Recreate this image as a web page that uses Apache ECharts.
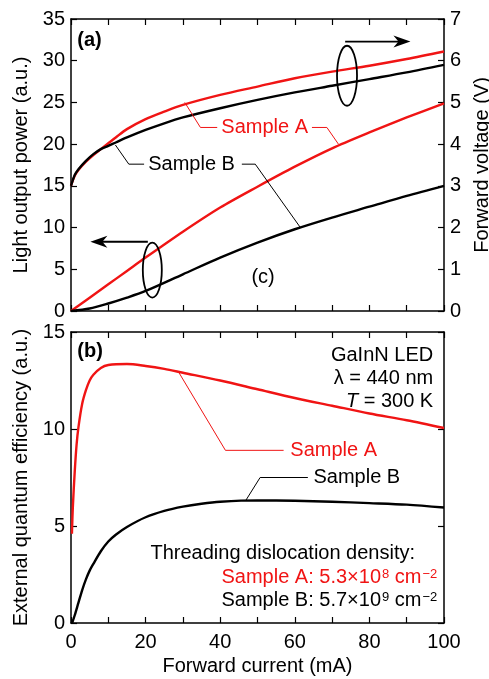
<!DOCTYPE html>
<html>
<head>
<meta charset="utf-8">
<script src="https://cdn.jsdelivr.net/npm/echarts@6/dist/echarts.min.js"></script>
<style>
html,body{margin:0;padding:0;background:#fff;}
#main{width:489px;height:679px;}
</style>
</head>
<body>
<div id="main"></div>
<script>
// (a) light output power (a.u.) vs forward current (mA)
var currentPower = [0, 5, 10, 15, 20, 30, 40, 50, 60, 70, 80, 90, 100];
var powerA = [0, 1.6, 3.2, 4.8, 6.4, 9.5, 12.4, 14.9, 17.3, 19.5, 21.4, 23.2, 24.9];
var powerB = [0, 0.3, 0.9, 1.6, 2.4, 4.4, 6.4, 8.2, 9.8, 11.2, 12.5, 13.8, 15.0];

// (a) forward voltage (V)
var currentVolt = [0, 1, 2, 4, 6, 8, 10, 12, 15, 20, 25, 30, 40, 50, 60, 70, 80, 90, 100];
var voltA = [3.00, 3.24, 3.38, 3.58, 3.74, 3.88, 4.02, 4.16, 4.36, 4.60, 4.78, 4.94, 5.18, 5.38, 5.58, 5.74, 5.88, 6.04, 6.22];
var voltB = [3.00, 3.26, 3.40, 3.60, 3.76, 3.88, 3.96, 4.04, 4.16, 4.34, 4.50, 4.64, 4.86, 5.06, 5.24, 5.40, 5.56, 5.72, 5.90];

// (b) external quantum efficiency (a.u.)
var currentEqeA = [0.25, 0.5, 1, 1.5, 2, 3, 4, 5, 6, 8, 10, 15, 20, 25, 30, 40, 50, 60, 70, 80, 90, 100];
var eqeA = [4.6, 6.0, 7.8, 9.2, 10.1, 11.3, 12.0, 12.5, 12.8, 13.15, 13.3, 13.35, 13.25, 13.1, 12.9, 12.5, 12.05, 11.6, 11.2, 10.8, 10.45, 10.05];
var currentEqeB = [0.3, 1, 2, 3, 4, 5, 6, 8, 10, 12, 15, 20, 25, 30, 35, 40, 50, 60, 70, 80, 90, 100];
var eqeB = [0, 0.4, 1.05, 1.7, 2.25, 2.7, 3.05, 3.7, 4.2, 4.55, 4.95, 5.45, 5.78, 6.0, 6.15, 6.25, 6.32, 6.3, 6.25, 6.18, 6.1, 5.95];

var RED = '#f01414';
var FONT = "'Liberation Sans', Arial, sans-serif";

function pairs(xs, ys) {
    return xs.map(function (x, i) { return [x, ys[i]]; });
}

var lineW = 1.5;
function xAx(grid, pos, labels) {
    return {
        gridIndex: grid, type: 'value', min: 0, max: 100, interval: 10, position: pos,
        axisLine: {show: true, onZero: false, lineStyle: {color: '#000', width: lineW}},
        axisTick: {show: true, inside: true, length: 6, lineStyle: {color: '#000', width: 1.2}},
        axisLabel: {
            show: labels, margin: 9, color: '#000', fontSize: 20, fontFamily: FONT,
            formatter: function (v) { return v % 20 === 0 ? v : ''; }
        },
        splitLine: {show: false}
    };
}
function yAx(grid, pos, max, step, labels) {
    return {
        gridIndex: grid, type: 'value', min: 0, max: max, interval: step, position: pos,
        axisLine: {show: true, onZero: false, lineStyle: {color: '#000', width: lineW}},
        axisTick: {show: true, inside: true, length: 6, lineStyle: {color: '#000', width: 1.2}},
        axisLabel: {show: labels, margin: 6, color: '#000', fontSize: 20, fontFamily: FONT},
        splitLine: {show: false},
        nameTextStyle: {color: '#000', fontSize: 20, fontFamily: FONT}
    };
}

var xBottom = xAx(1, 'bottom', true);
xBottom.name = 'Forward current (mA)';
xBottom.nameLocation = 'middle';
xBottom.nameGap = 33;
xBottom.nameTextStyle = {color: '#000', fontSize: 20, fontFamily: FONT};

var yPower = yAx(0, 'left', 35, 5, true);
yPower.name = 'Light output power (a.u.)';
yPower.nameLocation = 'middle';
yPower.nameRotate = 90;
yPower.nameGap = 40;

var yVolt = yAx(0, 'right', 7, 1, true);
yVolt.name = 'Forward voltage (V)';
yVolt.nameLocation = 'middle';
yVolt.nameRotate = 90;
yVolt.nameGap = 27;

var yEqe = yAx(1, 'left', 15, 5, true);
yEqe.name = 'External quantum efficiency (a.u.)';
yEqe.nameLocation = 'middle';
yEqe.nameRotate = 90;
yEqe.nameGap = 40;

function line(name, data, color, xi, yi) {
    return {
        name: name, type: 'line', xAxisIndex: xi, yAxisIndex: yi, data: data,
        showSymbol: false, smooth: 0.3,
        lineStyle: {color: color, width: 2.4}, z: 3, animation: false
    };
}

var chart = echarts.init(document.getElementById('main'), null, {renderer: 'canvas'});
chart.setOption({
    backgroundColor: '#fff',
    animation: false,
    grid: [
        {left: 71, top: 19, width: 373, height: 292, containLabel: false, outerBoundsMode: 'none'},
        {left: 71, top: 332, width: 373, height: 291, containLabel: false, outerBoundsMode: 'none'}
    ],
    xAxis: [xAx(0, 'bottom', false), xAx(0, 'top', false), xBottom, xAx(1, 'top', false)],
    yAxis: [yPower, yVolt, yEqe, yAx(1, 'right', 15, 5, false)],
    series: [
        line('Sample A power', pairs(currentPower, powerA), RED, 0, 0),
        line('Sample B power', pairs(currentPower, powerB), '#000', 0, 0),
        line('Sample A voltage', pairs(currentVolt, voltA), RED, 0, 1),
        line('Sample B voltage', pairs(currentVolt, voltB), '#000', 0, 1),
        line('Sample A EQE', pairs(currentEqeA, eqeA), RED, 2, 2),
        line('Sample B EQE', pairs(currentEqeB, eqeB), '#000', 2, 2)
    ]
});

// annotations, placed in data units of each panel
function P(panel, x, y) {
    return chart.convertToPixel({seriesIndex: panel === 'a' ? 0 : 4}, [x, y]);
}
function txt(p, text, color, align, extra) {
    var s = {
        text: text, fill: color, fontSize: 20, fontFamily: FONT,
        align: align, verticalAlign: 'middle'
    };
    if (extra) for (var k in extra) s[k] = extra[k];
    return {type: 'text', x: p[0], y: p[1], style: s, z: 10};
}
function poly(pts, color, w) {
    return {type: 'polyline', shape: {points: pts}, style: {stroke: color, lineWidth: w || 1, fill: null}, z: 5};
}
function arrow(from, to) {
    var dir = to[0] > from[0] ? -1 : 1;
    var tx = to[0], ty = to[1];
    return [
        poly([from, [tx + dir * 10, ty]], '#000', 1.8),
        {type: 'polygon', shape: {points: [[tx, ty], [tx + dir * 17, ty - 6], [tx + dir * 12, ty], [tx + dir * 17, ty + 6]]},
            style: {fill: '#000'}, z: 6}
    ];
}
function loop(c, rx, ry) {
    return {type: 'ellipse', shape: {cx: c[0], cy: c[1], rx: rx, ry: ry},
        style: {stroke: '#000', lineWidth: 1.8, fill: null}, z: 6};
}

var sup = {fontSize: 13, fontFamily: FONT, verticalAlign: 'top', padding: [0, 0, 0, 1]};
var g = [];
g.push(txt(P('a', 1.7, 32.4), '(a)', '#000', 'left', {fontWeight: 'bold'}));
g.push(txt(P('a', 51.5, 4.0), '(c)', '#000', 'center'));
// Sample A / B leaders, panel (a)
g.push(poly([P('a', 30.5, 25.0), P('a', 34.7, 22.0), P('a', 39.2, 22.0)], RED));
g.push(txt(P('a', 40.3, 22.0), 'Sample A', RED, 'left'));
g.push(poly([P('a', 64.6, 22.0), P('a', 68.6, 22.0), P('a', 71.7, 20.0)], RED));
g.push(poly([P('a', 11.9, 19.9), P('a', 15.5, 17.6), P('a', 19.6, 17.6)], '#000'));
g.push(txt(P('a', 20.7, 17.6), 'Sample B', '#000', 'left'));
g.push(poly([P('a', 45.8, 17.6), P('a', 49.4, 17.6), P('a', 61.5, 10.0)], '#000'));
// arrows and loops
g.push(loop(P('a', 21.8, 4.9), 9.5, 27.5));
g = g.concat(arrow(P('a', 20.6, 8.3), P('a', 5.2, 8.3)));
g.push(loop(P('a', 74.0, 28.2), 10, 30));
g = g.concat(arrow(P('a', 73.5, 32.3), P('a', 91.0, 32.3)));

// panel (b)
g.push(txt(P('b', 1.7, 14.0), '(b)', '#000', 'left', {fontWeight: 'bold'}));
g.push(txt(P('b', 97.1, 13.8), 'GaInN LED', '#000', 'right'));
g.push(txt(P('b', 97.1, 12.6), 'λ = 440 nm', '#000', 'right'));
g.push(txt(P('b', 97.1, 11.4), '{i|T} = 300 K', '#000', 'right',
    {rich: {i: {fontStyle: 'italic', fontSize: 20, fontFamily: FONT}}}));
g.push(poly([P('b', 28.8, 12.95), P('b', 41.4, 8.9), P('b', 57.0, 8.9)], RED));
g.push(txt(P('b', 58.8, 8.9), 'Sample A', RED, 'left'));
g.push(poly([P('b', 46.8, 6.3), P('b', 50.7, 7.5), P('b', 63.5, 7.5)], '#000'));
g.push(txt(P('b', 65.0, 7.5), 'Sample B', '#000', 'left'));
g.push(txt(P('b', 21.3, 3.6), 'Threading dislocation density:', '#000', 'left'));
g.push(txt(P('b', 98.2, 2.33), 'Sample A: 5.3×10{s|8} cm{s|−2}', RED, 'right', {rich: {s: sup}}));
g.push(txt(P('b', 98.2, 1.15), 'Sample B: 5.7×10{s|9} cm{s|−2}', '#000', 'right', {rich: {s: sup}}));

chart.setOption({graphic: g});
</script>
</body>
</html>
